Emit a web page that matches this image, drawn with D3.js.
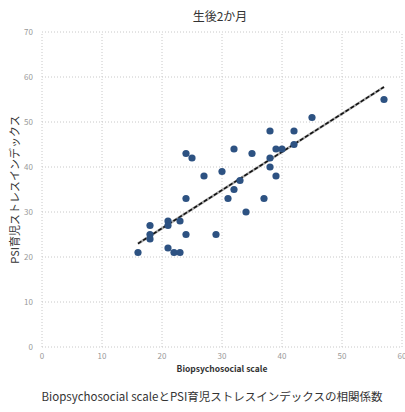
<!DOCTYPE html>
<html>
<head>
<meta charset="utf-8">
<script src="https://cdn.jsdelivr.net/npm/d3@7"></script>
<style>
  body { margin: 0; background: #fff; }
  text { font-family: "Noto Sans CJK JP", "Noto Sans", sans-serif; }
</style>
</head>
<body>
<div id="chart"></div>
<script>
// scale values (x) and PSI values (y)
const bioScale = [16, 18, 18, 18, 21, 21, 21, 22, 23, 23, 24, 25, 24, 24, 27, 29, 30,
    32, 31, 32, 33, 34, 35, 37, 38, 42, 42, 39, 40, 38, 38, 39, 45, 57];
const psiValues = [21, 27, 25, 24, 28, 27, 22, 21, 21, 28, 43, 42, 33, 25, 38, 25, 39,
    44, 33, 35, 37, 30, 43, 33, 48, 48, 45, 44, 44, 42, 40, 38, 51, 55];
const xTicks = [0, 10, 20, 30, 40, 50, 60];
const yTicks = [0, 10, 20, 30, 40, 50, 60, 70];
const titleText = "生後2か月";
const xLabel = "Biopsychosocial scale";
const yLabel = "PSI育児ストレスインデックス";
const caption = "Biopsychosocial scaleとPSI育児ストレスインデックスの相関係数";

const width = 405, height = 412;
const margin = {top: 32, right: 3, bottom: 65, left: 42};

const svg = d3.select("#chart").append("svg")
    .attr("width", width)
    .attr("height", height);

const x = d3.scaleLinear().domain([0, 60]).range([margin.left, width - margin.right]);
const y = d3.scaleLinear().domain([0, 70]).range([height - margin.bottom, margin.top]);

// grid
svg.append("g")
    .selectAll("line")
    .data(xTicks)
    .join("line")
    .attr("x1", d => x(d)).attr("x2", d => x(d))
    .attr("y1", y(0)).attr("y2", y(70))
    .attr("stroke", "#c8c8c8")
    .attr("stroke-dasharray", "1,2");
svg.append("g")
    .selectAll("line")
    .data(yTicks)
    .join("line")
    .attr("y1", d => y(d)).attr("y2", d => y(d))
    .attr("x1", x(0)).attr("x2", x(60))
    .attr("stroke", "#c8c8c8")
    .attr("stroke-dasharray", "1,2");

// tick labels
svg.append("g")
    .selectAll("text")
    .data(xTicks)
    .join("text")
    .attr("x", d => x(d))
    .attr("y", y(0) + 12)
    .attr("text-anchor", "middle")
    .style("font-size", "8px")
    .style("fill", "#999")
    .text(d => d);
svg.append("g")
    .selectAll("text")
    .data(yTicks)
    .join("text")
    .attr("x", x(0) - 9)
    .attr("y", d => y(d) + 3)
    .attr("text-anchor", "end")
    .style("font-size", "8px")
    .style("fill", "#999")
    .text(d => d);

// least squares trend line
const pts = bioScale.map((v, i) => [v, psiValues[i]]);
const mx = d3.mean(bioScale), my = d3.mean(psiValues);
const slope = d3.sum(pts, p => (p[0] - mx) * (p[1] - my)) / d3.sum(pts, p => (p[0] - mx) ** 2);
const icpt = my - slope * mx;
const xr = d3.extent(bioScale);
const trend = xr.map(v => [v, icpt + slope * v]);
const line = d3.line().x(d => x(d[0])).y(d => y(d[1]));

svg.append("path")
    .attr("d", line(trend))
    .attr("stroke", "#aaa")
    .attr("stroke-width", 2.5)
    .attr("fill", "none");
svg.append("path")
    .attr("d", line(trend))
    .attr("stroke", "#111")
    .attr("stroke-width", 1.6)
    .attr("stroke-dasharray", "4,2")
    .attr("fill", "none");

// points
svg.append("g")
    .selectAll("circle")
    .data(pts)
    .join("circle")
    .attr("cx", d => x(d[0]))
    .attr("cy", d => y(d[1]))
    .attr("r", 3.6)
    .attr("fill", "#2d5282");

// texts
svg.append("text")
    .attr("x", 220).attr("y", 21)
    .attr("text-anchor", "middle")
    .style("font-size", "12px")
    .style("fill", "#333")
    .text(titleText);
svg.append("text")
    .attr("transform", "translate(19," + ((y(0) + y(70)) / 2) + ") rotate(-90)")
    .attr("text-anchor", "middle")
    .style("font-size", "11px")
    .style("fill", "#333")
    .text(yLabel);
svg.append("text")
    .attr("x", (x(0) + x(60)) / 2).attr("y", 372)
    .attr("text-anchor", "middle")
    .style("font-size", "8.5px")
    .style("font-weight", "bold")
    .style("fill", "#333")
    .text(xLabel);
svg.append("text")
    .attr("x", 212).attr("y", 401)
    .attr("text-anchor", "middle")
    .style("font-size", "11.5px")
    .style("fill", "#333")
    .text(caption);
</script>
</body>
</html>
